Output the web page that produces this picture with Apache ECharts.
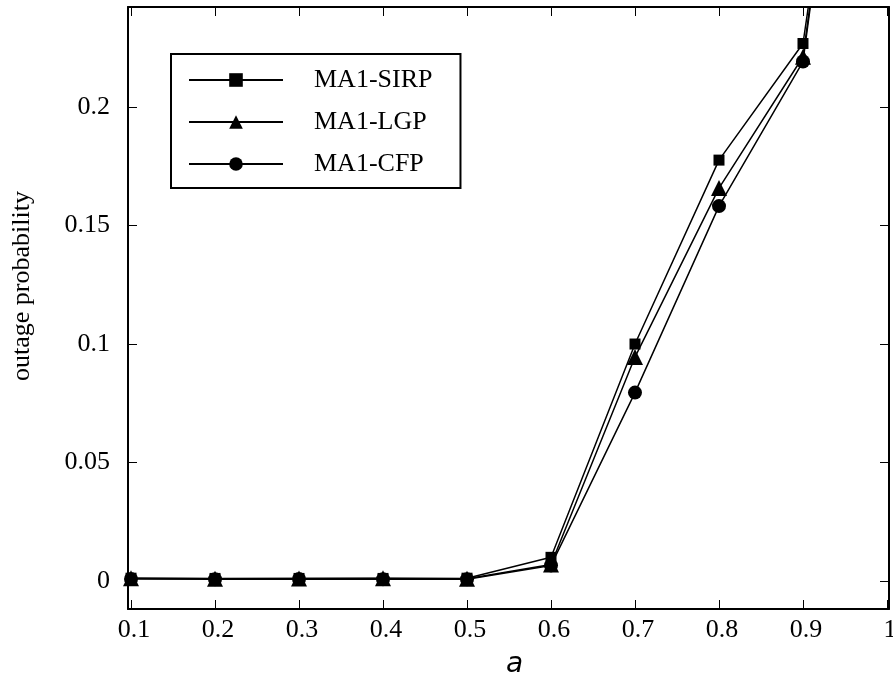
<!DOCTYPE html>
<html>
<head>
<meta charset="utf-8">
<script src="https://cdn.jsdelivr.net/npm/echarts@6/dist/echarts.min.js"></script>
<style>
  html, body { margin: 0; padding: 0; background: #fff; }
  #chart { width: 893px; height: 678px; }
</style>
</head>
<body>
<div id="chart"></div>
<script>
// ---- data ----
const xValues = [0.1, 0.2, 0.3, 0.4, 0.5, 0.6, 0.7, 0.8, 0.9, 1.0];
const sirp = [0.0012, 0.0011, 0.0011, 0.0011, 0.0012, 0.0100, 0.1000, 0.1776, 0.2268, 0.470];
const lgp  = [0.0012, 0.0010, 0.0011, 0.0012, 0.0010, 0.0070, 0.0945, 0.1658, 0.2212, 0.480];
const cfp  = [0.0009, 0.0008, 0.0009, 0.0008, 0.0008, 0.0066, 0.0795, 0.1582, 0.2192, 0.485];
const xTicks = [0.1, 0.2, 0.3, 0.4, 0.5, 0.6, 0.7, 0.8, 0.9, 1.0];
const yTicks = [0, 0.05, 0.1, 0.15, 0.2];
const seriesNames = ['MA1-SIRP', 'MA1-LGP', 'MA1-CFP'];

const pairs = arr => xValues.map((x, i) => [x, arr[i]]);
const serif = 'Liberation Serif, Times New Roman, serif';

const xMin = 0.0964, xMax = 1.0024;
const yMin = -0.0118, yMax = 0.2422;

const chart = echarts.init(document.getElementById('chart'), null, { renderer: 'canvas' });

const fmtX = v => String(+(+v).toFixed(1));
const fmtY = v => String(+(+v).toFixed(2));

const baseAxisLine = { show: true, onZero: false, lineStyle: { color: '#000', width: 2 } };

chart.setOption({
  animation: false,
  backgroundColor: '#fff',
  grid: { left: 128, right: 4, top: 7, bottom: 69, containLabel: false, outerBoundsMode: 'none' },
  legend: {
    orient: 'vertical',
    left: 171,
    top: 54,
    data: seriesNames,
    borderColor: '#000',
    borderWidth: 2,
    padding: [13, 28, 11, 17],
    itemWidth: 94,
    itemHeight: 17,
    itemGap: 16,
    textStyle: { fontFamily: serif, fontSize: 26, color: '#000', padding: [0, 0, 0, 26] }
  },
  xAxis: [
    {
      type: 'value', position: 'bottom', min: xMin, max: xMax,
      name: 'a', nameLocation: 'middle', nameGap: 42,
      nameTextStyle: { fontFamily: 'DejaVu Sans, sans-serif', fontStyle: 'italic', fontSize: 28, color: '#000', padding: [0, 0, 0, 12] },
      axisLine: baseAxisLine,
      axisTick: { show: true, inside: true, length: 9, customValues: xTicks, lineStyle: { color: '#000', width: 1 } },
      axisLabel: { show: true, customValues: xTicks, formatter: fmtX, margin: 8,
        fontFamily: serif, fontSize: 26, color: '#000', padding: [0, 0, 0, 6] },
      splitLine: { show: false }
    },
    {
      type: 'value', position: 'top', min: xMin, max: xMax,
      axisLine: baseAxisLine,
      axisTick: { show: true, inside: true, length: 9, customValues: xTicks, lineStyle: { color: '#000', width: 1 } },
      axisLabel: { show: false },
      splitLine: { show: false }
    }
  ],
  yAxis: [
    {
      type: 'value', position: 'left', min: yMin, max: yMax,
      name: 'outage probability', nameLocation: 'middle', nameGap: 93, nameRotate: 90,
      nameTextStyle: { fontFamily: serif, fontSize: 26, color: '#000', padding: [0, 0, 0, 44] },
      axisLine: baseAxisLine,
      axisTick: { show: true, inside: true, length: 9, customValues: yTicks, lineStyle: { color: '#000', width: 1 } },
      axisLabel: { show: true, customValues: yTicks, formatter: fmtY, margin: 18,
        fontFamily: serif, fontSize: 26, color: '#000' },
      splitLine: { show: false }
    },
    {
      type: 'value', position: 'right', min: yMin, max: yMax,
      axisLine: baseAxisLine,
      axisTick: { show: true, inside: true, length: 9, customValues: yTicks, lineStyle: { color: '#000', width: 1 } },
      axisLabel: { show: false },
      splitLine: { show: false }
    }
  ],
  series: [
    {
      name: seriesNames[0], type: 'line', xAxisIndex: 0, yAxisIndex: 0,
      data: pairs(sirp), symbol: 'rect', symbolSize: 11, showAllSymbol: true,
      lineStyle: { color: '#000', width: 1.5 }, itemStyle: { color: '#000' }, clip: true
    },
    {
      name: seriesNames[1], type: 'line', xAxisIndex: 0, yAxisIndex: 0,
      data: pairs(lgp), symbol: 'triangle', symbolSize: 16, showAllSymbol: true,
      lineStyle: { color: '#000', width: 1.5 }, itemStyle: { color: '#000' }, clip: true
    },
    {
      name: seriesNames[2], type: 'line', xAxisIndex: 0, yAxisIndex: 0,
      data: pairs(cfp), symbol: 'circle', symbolSize: 14, showAllSymbol: true,
      lineStyle: { color: '#000', width: 1.5 }, itemStyle: { color: '#000' }, clip: true
    }
  ]
});
</script>
</body>
</html>
